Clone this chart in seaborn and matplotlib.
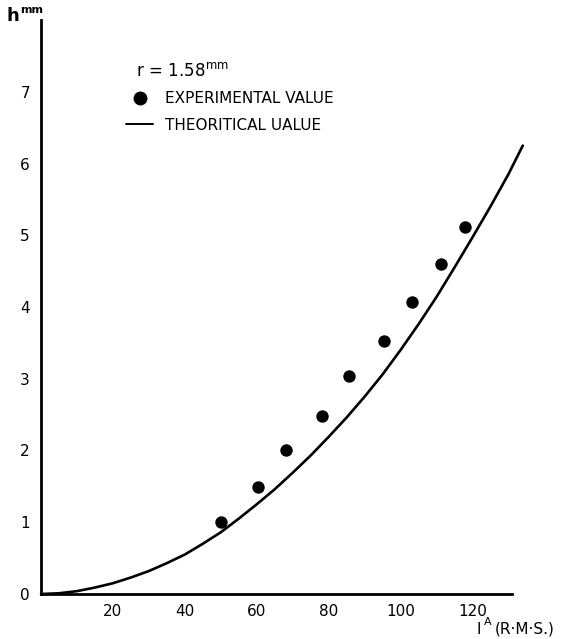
import matplotlib
matplotlib.use("Agg")
import matplotlib.pyplot as plt
from matplotlib.lines import Line2D
import seaborn as sns
import pandas as pd

# Measured meniscus height h (mm) against current I (A, r.m.s.), r = 1.58 mm
exp_current = [50.2, 60.4, 68.1, 78.1, 85.6, 95.3, 103.3, 111.3, 117.8]
exp_height = [1.01, 1.49, 2.01, 2.48, 3.04, 3.53, 4.07, 4.60, 5.11]

# Theoretical curve
theo_current = [0, 5, 10, 15, 20, 25, 30, 35, 40, 45, 50, 55, 60, 65, 70,
                75, 80, 85, 90, 95, 100, 105, 110, 115, 120, 125, 130, 134]
theo_height = [0.0, 0.01, 0.04, 0.09, 0.15, 0.23, 0.32, 0.43, 0.55, 0.70,
               0.86, 1.05, 1.25, 1.46, 1.69, 1.93, 2.19, 2.46, 2.75, 3.06,
               3.40, 3.76, 4.14, 4.55, 4.97, 5.40, 5.85, 6.25]

x_ticks = [20, 40, 60, 80, 100, 120]
y_ticks = [0, 1, 2, 3, 4, 5, 6, 7]

exp_df = pd.DataFrame({"I": exp_current, "h": exp_height})
theo_df = pd.DataFrame({"I": theo_current, "h": theo_height})

sns.set_style("white")
plt.rcParams["font.family"] = ["DejaVu Sans"]
plt.rcParams["text.color"] = "black"
plt.rcParams["legend.labelcolor"] = "black"

W, H = 569, 639
fig = plt.figure(figsize=(W / 100, H / 100), dpi=100)
ax = fig.add_axes([41 / W, 1 - 594 / H, (512 - 41) / W, (594 - 20) / H])

sns.lineplot(data=theo_df, x="I", y="h", ax=ax, color="black", lw=1.9,
             clip_on=False, zorder=3)
sns.scatterplot(data=exp_df, x="I", y="h", ax=ax, color="black", s=80,
                edgecolor="black", linewidth=0, zorder=4)

ax.set_xlim(0, 131)
ax.set_ylim(0, 8)
ax.set_xticks(x_ticks)
ax.set_yticks(y_ticks)
ax.tick_params(direction="in", length=4, width=1.2, labelsize=11,
               colors="black")
ax.tick_params(axis="y", pad=8)
ax.tick_params(axis="x", pad=7)
ax.set_xlabel("")
ax.set_ylabel("")
sns.despine(ax=ax)
for side in ("left", "bottom"):
    ax.spines[side].set_linewidth(2.0)
    ax.spines[side].set_color("black")

# Axis titles
fig.text(6 / W, 1 - 16 / H, "h", fontsize=13, ha="left", va="center",
         fontweight="bold", color="black")
fig.text(20 / W, 1 - 10 / H, "mm", fontsize=8, ha="left", va="center",
         fontweight="bold", color="black")
fig.text(476 / W, 1 - 629 / H, "I", fontsize=11, ha="left", va="center",
         color="black")
fig.text(484 / W, 1 - 622 / H, "A", fontsize=8, ha="left", va="center",
         color="black")
fig.text(495 / W, 1 - 629 / H, "(R·M·S.)", fontsize=11, ha="left",
         va="center", color="black")

# Key
handles = [
    Line2D([], [], marker="o", ls="none", color="black", markersize=9),
    Line2D([], [], color="black", lw=1.4),
]
leg = ax.legend(handles, ["EXPERIMENTAL VALUE", "THEORITICAL UALUE"],
                loc="upper left", bbox_to_anchor=(112 / W, 1 - 48 / H),
                bbox_transform=fig.transFigure, frameon=False, fontsize=11,
                handlelength=1.8, handletextpad=0.75, labelspacing=0.75,
                title="  r = 1.58$^{\\mathrm{mm}}$", title_fontsize=12,
                alignment="left")
leg.get_title().set_color("black")

fig.savefig("out.png", dpi=100, facecolor="white")
